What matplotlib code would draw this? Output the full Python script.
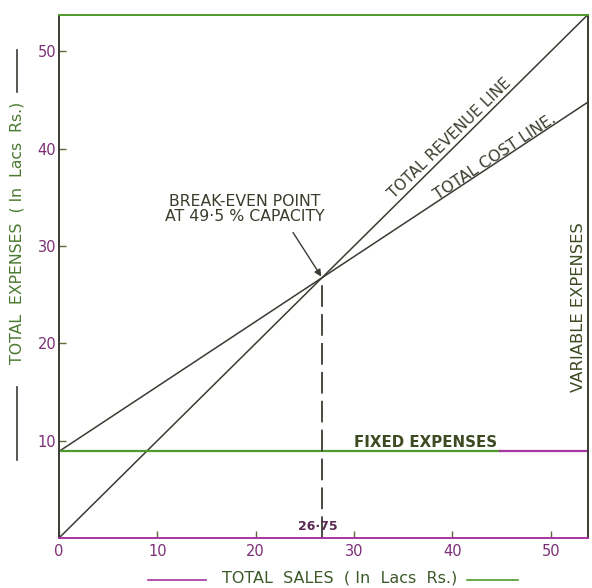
import matplotlib
matplotlib.use("Agg")
import matplotlib.pyplot as plt
from matplotlib.lines import Line2D

# values (Lacs Rs.)
sales = [0, 53.8]
revenue = [0, 53.8]
fixed_cost = 8.9
break_even = 26.75
variable_ratio = 1 - fixed_cost / break_even
total_cost = [fixed_cost + variable_ratio * s for s in sales]
x_ticks = [0, 10, 20, 30, 40, 50]
y_ticks = [10, 20, 30, 40, 50]

DARK = "#3b3a33"
MAGENTA = "#a8349f"
GREEN = "#4f9a2c"
LABEL = "#7c2f78"

fig = plt.figure(figsize=(5.92, 5.88), dpi=100)
ax = fig.add_axes([59 / 592, 50 / 588, 529 / 592, 523 / 588])
ax.set_xlim(0, 53.8)
ax.set_ylim(0, 53.75)

#? Revenue and cost lines
ax.plot(sales, revenue, color=DARK, lw=1.1)
ax.plot(sales, total_cost, color=DARK, lw=1.1)

#? Fixed expenses line (green, then magenta towards the right)
split = 44.8
ax.plot([0, split], [fixed_cost, fixed_cost], color=GREEN, lw=1.6)
ax.plot([split, sales[1]], [fixed_cost, fixed_cost], color=MAGENTA, lw=1.6)

#? Break-even drop line
ax.plot([break_even, break_even], [0, break_even], color=DARK, lw=1.3,
        linestyle=(0, (12, 4)))
ax.text(break_even - 0.4, 1.2, "26·75", fontsize=9, fontweight="bold",
        color="#5a2a55", ha="center", va="center")

ax.text(18.9, 33.8, "BREAK-EVEN POINT\nAT 49·5 % CAPACITY",
        fontsize=11.3, color="#3c3c2c", ha="center", va="center",
        linespacing=1.05)
ax.annotate("", xy=(break_even, break_even), xytext=(23.8, 31.4),
            arrowprops=dict(arrowstyle="-|>", color=DARK, lw=1.0,
                            shrinkA=0, shrinkB=1, mutation_scale=10))

#? Line labels
ax.text(39.7, 41.1, "TOTAL REVENUE LINE", rotation=44.3, fontsize=11,
        color="#3c3c2c", ha="center", va="center")
ax.text(44.3, 39.2, "TOTAL COST LINE.", rotation=33.5, fontsize=11.3,
        color="#3c3c2c", ha="center", va="center")
ax.text(37.3, 9.8, "FIXED EXPENSES", fontsize=10.8, fontweight="bold",
        color="#3d4a22", ha="center", va="center")
ax.text(52.8, 23.7, "VARIABLE EXPENSES", rotation=90, fontsize=11.8,
        color="#3d4a22", ha="center", va="center")

#? Spines and ticks
ax.spines["left"].set_color(DARK)
ax.spines["right"].set_color(DARK)
ax.spines["bottom"].set_color(MAGENTA)
ax.spines["top"].set_color(GREEN)
for sp in ax.spines.values():
    sp.set_linewidth(1.4)

ax.set_xticks(x_ticks)
ax.set_yticks(y_ticks)
ax.tick_params(direction="in", length=5, width=1.0, color="#5a6a3a",
               labelsize=10.5, labelcolor=LABEL)
ax.tick_params(axis="y", pad=2)
ax.tick_params(axis="x", pad=4)

#? Axis titles with their flanking rules
fig.text(17 / 592, 1 - 233 / 588, "TOTAL  EXPENSES  ( In  Lacs  Rs.)",
         rotation=90, fontsize=11.3, color="#4a7a30", ha="center", va="center")
fig.add_artist(Line2D([17 / 592, 17 / 592], [1 - 50 / 588, 1 - 92 / 588],
                      color=DARK, lw=1.2))
fig.add_artist(Line2D([17 / 592, 17 / 592], [1 - 387 / 588, 1 - 460 / 588],
                      color=DARK, lw=1.2))

fig.text(340 / 592, 1 - 578 / 588, "TOTAL  SALES  ( In  Lacs  Rs.)",
         fontsize=11.5, color="#3d5a2a", ha="center", va="center")
fig.add_artist(Line2D([148 / 592, 206 / 592], [1 - 580 / 588, 1 - 580 / 588],
                      color=MAGENTA, lw=1.2))
fig.add_artist(Line2D([467 / 592, 518 / 592], [1 - 580 / 588, 1 - 580 / 588],
                      color=GREEN, lw=1.2))

fig.savefig("out.png", dpi=100, facecolor="white")
